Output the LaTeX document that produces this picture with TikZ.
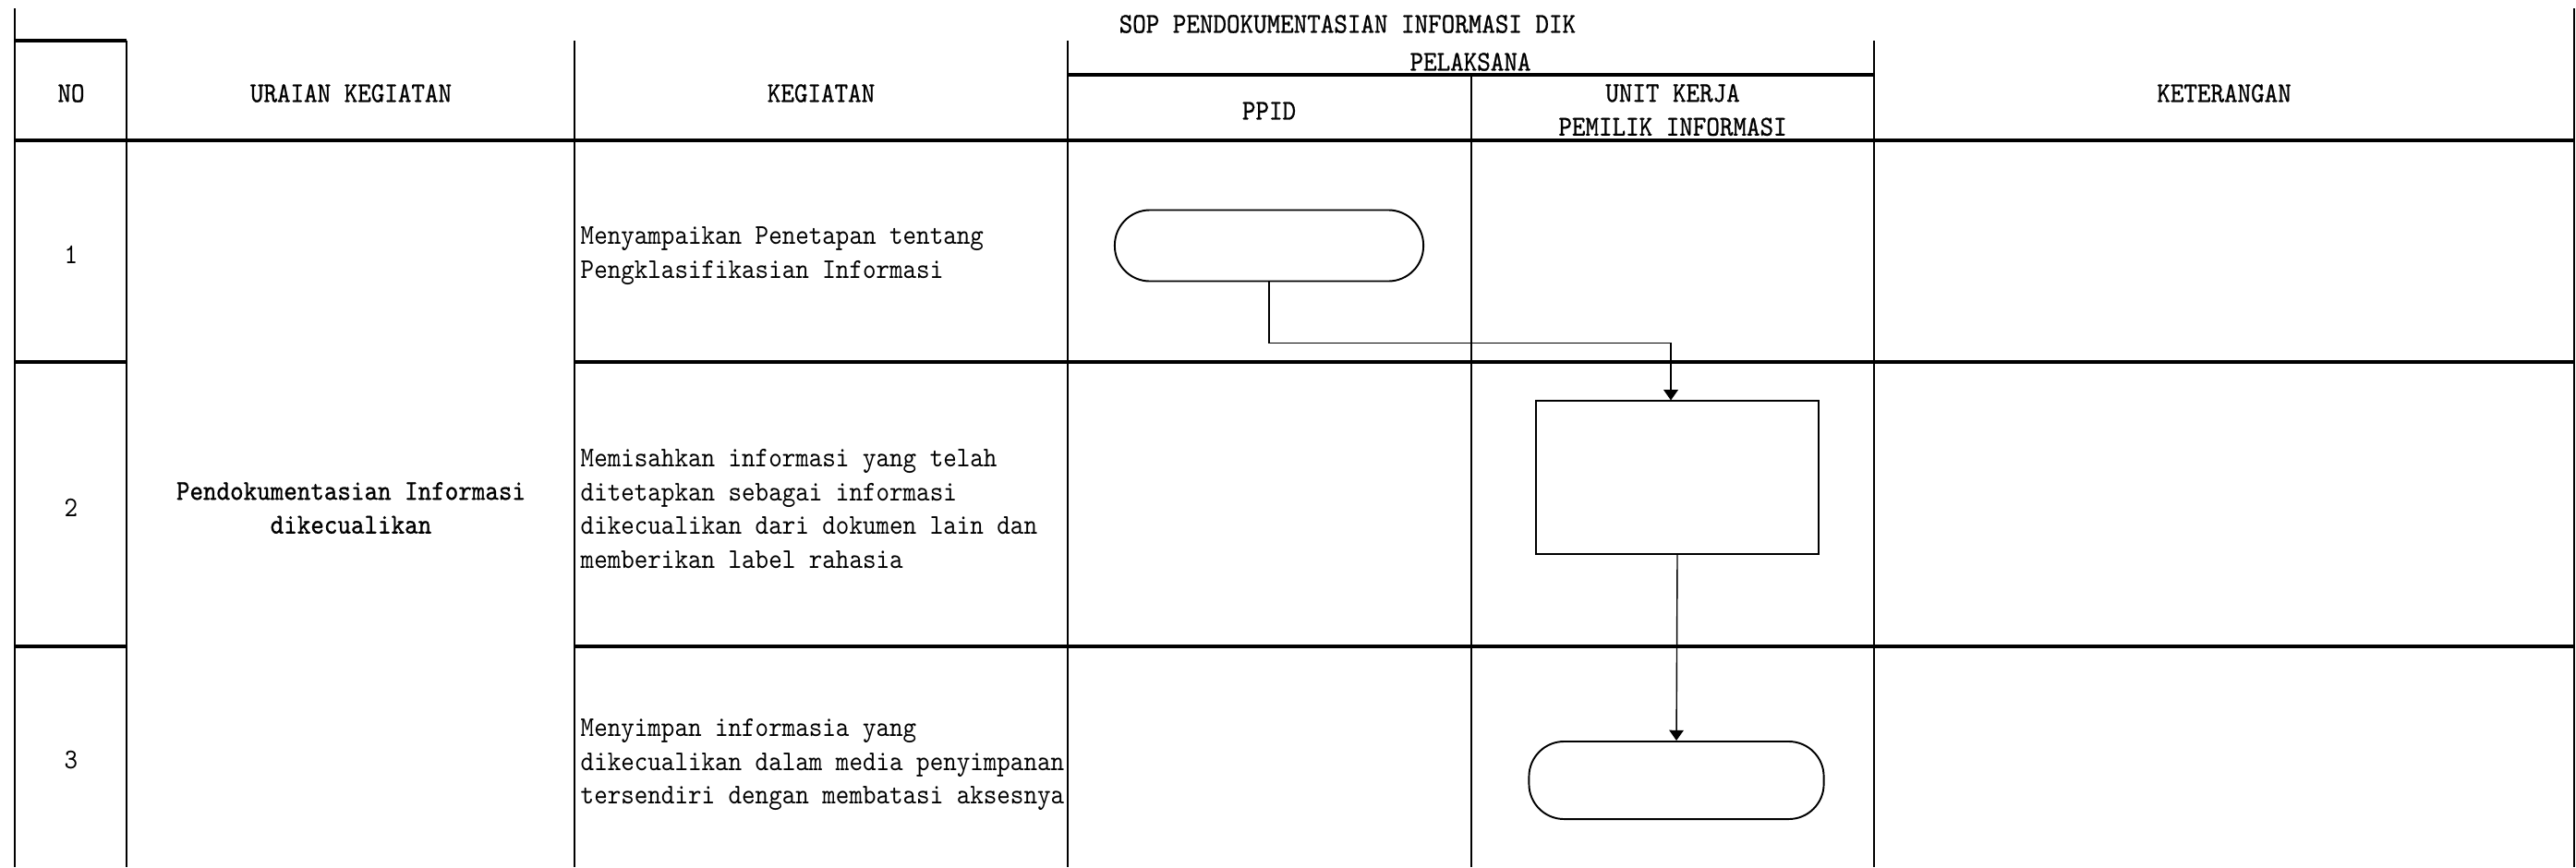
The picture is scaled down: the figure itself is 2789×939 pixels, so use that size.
\documentclass[tikz,border=0pt]{standalone}
\usepackage{fontspec}
\setmonofont{lmmono10-regular.otf}[FakeStretch=0.895]
\newfontfamily\hdrfont{lmmono10-regular.otf}[FakeStretch=0.895, FakeBold=0.8]
\usetikzlibrary{arrows.meta,positioning,calc}

\begin{document}
\begin{tikzpicture}[x=0.01cm, y=-0.01cm,
    grid_h/.style={draw, line width=1pt},
    grid_v/.style={draw, line width=0.7pt},
    txt/.style={font=\ttfamily\fontsize{8.8}{10.4}\selectfont, inner sep=0pt, align=center},
    txt_hdr/.style={txt, font=\hdrfont\fontsize{8.8}{10.4}\selectfont},
    txt_left/.style={txt, align=left, anchor=west},
    term/.style={rectangle, draw, line width=0.55pt, rounded corners=0.38cm, minimum width=3.34cm, minimum height=0.77cm},
    proc/.style={rectangle, draw, line width=0.55pt, minimum width=3.06cm, minimum height=1.65cm},
    line/.style={draw, line width=0.4pt, -{Triangle[length=3.2pt,width=4.4pt]}}]

    \useasboundingbox (0,0) rectangle (2789,939);

    \foreach \x/\y in {16/9, 137/44, 622/44, 1156/44, 1593/81, 2029/44, 2787/9}
        \path [grid_v] (\x,\y) -- (\x,939);
    \path [grid_h] (16,44) -- (137,44);
    \path [grid_h] (1156,81) -- (2029,81);
    \path [grid_h] (16,152) -- (2787,152);
    \foreach \y in {392,700} {
        \path [grid_h] (16,\y) -- (137,\y);
        \path [grid_h] (622,\y) -- (2787,\y);
    }

    \node [txt_hdr, anchor=west] (title) at (1211,26) {SOP PENDOKUMENTASIAN INFORMASI DIK};
    \node [txt_hdr] (pelaksana) at (1592,67) {PELAKSANA};
    \node [txt_hdr] (h_no) at (77,101) {NO};
    \node [txt_hdr] (h_uraian) at (380,101) {URAIAN KEGIATAN};
    \node [txt_hdr] (h_kegiatan) at (889,101) {KEGIATAN};
    \node [txt_hdr] (h_ppid) at (1374,120) {PPID};
    \node [txt_hdr] (h_unit) at (1811,119) {UNIT KERJA\\PEMILIK INFORMASI};
    \node [txt_hdr] (h_ket) at (2408,101) {KETERANGAN};

    \node [txt] (n1) at (77,276) {1};
    \node [txt] (n2) at (77,550) {2};
    \node [txt] (n3) at (77,823) {3};
    \node [txt_hdr] (uraian) at (380,550) {Pendokumentasian Informasi\\dikecualikan};

    \node [txt_left] (k1) at (628,277) {Menyampaikan Penetapan tentang\\Pengklasifikasian Informasi};
    \node [txt_left] (k2) at (628,551) {Memisahkan informasi yang telah\\ditetapkan sebagai informasi\\dikecualikan dari dokumen lain dan\\memberikan label rahasia};
    \node [txt_left] (k3) at (628,828) {Menyimpan informasia yang\\dikecualikan dalam media penyimpanan\\tersendiri dengan membatasi aksesnya};

    \node [term] (t_start) at (1374,266) {};
    \node [proc] (p_pisah) at (1816,517) {};
    \node [term, minimum width=3.19cm, minimum height=0.84cm] (t_end) at (1815,845) {};

    \path [line] (t_start.south) -- ++(0,66) -| ([xshift=-0.07cm]p_pisah.north);
    \path [line] (p_pisah.south) -- (t_end.north);
\end{tikzpicture}
\end{document}
